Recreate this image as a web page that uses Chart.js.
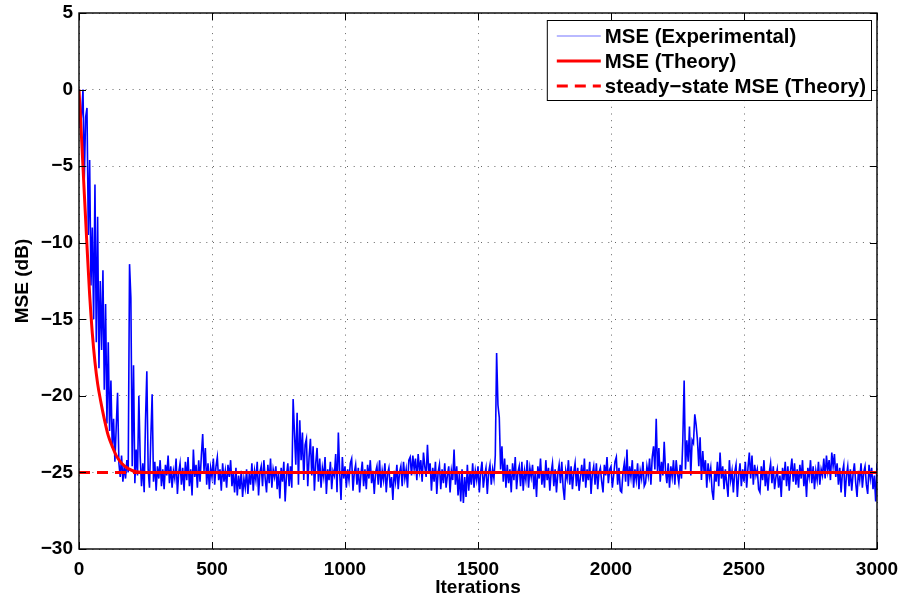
<!DOCTYPE html>
<html>
<head>
<meta charset="utf-8">
<script src="https://cdn.jsdelivr.net/npm/chart.js@4.4.1/dist/chart.umd.min.js"></script>
<style>
  html, body { margin: 0; padding: 0; background: #fff; }
  #wrap { width: 904px; height: 603px; }
</style>
</head>
<body>
<div id="wrap"><canvas id="graficoMSE"></canvas></div>
<script>
// MSE experimental (dB), one value every 5 iterations
const expStep = 5;
const expSeg0 = [ // 0 - 495
  0.0, -2.5, -1.6, 0.0, -5.8, -1.8, -1.2, -9.5, -4.6, -12.8,
  -9.0, -15.0, -6.2, -16.5, -8.3, -18.2, -12.5, -17.0, -11.8, -19.6,
  -14.0, -21.8, -16.5, -22.3, -19.0, -23.4, -21.5, -24.3, -22.0, -19.8,
  -24.4, -25.3, -23.9, -25.6, -24.6, -25.4, -24.2, -25.0, -11.4, -13.6,
  -24.6, -18.0, -25.7, -23.5, -25.2, -20.0, -24.0, -25.9, -24.4, -26.3,
  -21.6, -18.4, -24.8, -26.0, -22.7, -19.9, -25.6, -24.3, -26.2, -24.6,
  -25.4, -24.2, -25.9, -24.8, -26.1, -24.5, -25.2, -23.9, -25.7, -24.6,
  -26.0, -24.9, -25.4, -24.1, -26.4, -25.0, -24.4, -25.8, -24.7, -26.2,
  -24.3, -25.5, -24.0, -25.9, -24.8, -26.5, -23.5, -25.3, -24.5, -26.0,
  -24.2, -25.6, -23.9, -22.5, -24.9, -23.4, -25.8, -24.4, -26.1, -24.7
];
const expSeg1 = [ // 500 - 995
  -25.3, -24.1, -25.8, -24.6, -24.0, -25.5, -24.8, -26.2, -24.4, -25.6,
  -24.9, -26.0, -24.5, -25.3, -24.2, -25.9, -25.0, -26.3, -24.7, -26.5,
  -25.2, -26.1, -24.9, -26.6, -25.4, -26.0, -24.8, -26.4, -25.1, -25.8,
  -24.4, -26.2, -24.9, -25.5, -24.3, -26.5, -25.0, -24.6, -25.9, -24.2,
  -25.4, -26.3, -24.5, -25.7, -24.1, -26.0, -24.8, -25.3, -24.6, -26.1,
  -25.0, -26.7, -24.7, -25.6, -24.3, -26.9, -25.2, -24.4, -25.9, -24.6,
  -26.0, -20.2, -22.4, -24.5, -21.1, -25.8, -21.6, -24.2, -22.4, -25.5,
  -23.2, -22.8, -25.9, -24.0, -22.8, -25.2, -23.3, -26.2, -24.4, -23.4,
  -25.6, -24.1, -26.0, -24.7, -25.3, -24.0, -26.4, -24.8, -25.5, -24.3,
  -26.1, -24.9, -25.2, -23.8, -26.3, -22.4, -25.0, -26.8, -24.0, -25.4
];
const expSeg2 = [ // 1000 - 1495
  -24.6, -26.0, -24.8, -25.5, -24.4, -24.1, -26.2, -25.0, -24.5, -25.8,
  -24.7, -26.3, -25.1, -24.3, -25.9, -24.8, -26.1, -24.5, -25.4, -24.2,
  -25.7, -24.9, -26.4, -25.0, -24.6, -25.8, -24.2, -26.0, -24.9, -25.5,
  -24.4, -26.3, -25.1, -24.7, -26.0, -25.3, -26.8, -24.9, -25.6, -24.5,
  -26.1, -25.0, -24.6, -25.9, -24.3, -25.4, -24.8, -26.0, -24.2, -24.0,
  -25.2, -23.9, -24.8, -24.1, -25.5, -23.8, -24.9, -24.2, -25.6, -23.7,
  -24.6, -25.3, -23.2, -25.0, -24.4, -26.2, -24.7, -25.6, -24.3, -26.4,
  -25.0, -24.5, -26.1, -24.8, -25.7, -24.4, -26.0, -25.2, -24.6, -26.3,
  -24.9, -25.5, -23.5, -25.8, -24.6, -26.5, -25.1, -26.9, -24.8, -27.0,
  -25.3, -26.6, -24.5, -26.2, -25.0, -25.8, -24.4, -26.0, -24.9, -25.5
];
const expSeg3 = [ // 1500 - 1995
  -24.6, -26.3, -25.0, -24.3, -26.0, -25.2, -24.7, -26.4, -25.0, -24.5,
  -25.8, -24.8, -25.4, -23.9, -17.2, -20.6, -21.4, -24.8, -23.3, -25.6,
  -24.1, -26.0, -24.5, -25.7, -24.8, -26.3, -24.4, -25.5, -24.0, -26.1,
  -25.0, -24.6, -25.9, -24.3, -26.2, -24.9, -25.5, -24.2, -26.0, -24.7,
  -25.3, -24.5, -26.1, -25.0, -26.6, -24.6, -25.4, -24.1, -25.8, -24.9,
  -26.0, -24.2, -25.5, -24.7, -26.2, -25.0, -24.4, -25.9, -24.8, -26.3,
  -25.1, -24.5, -25.7, -24.3, -26.0, -26.8, -24.9, -25.4, -24.2, -25.8,
  -24.6, -26.1, -25.0, -24.4, -25.9, -24.7, -26.2, -25.3, -24.5, -25.6,
  -24.1, -26.0, -24.8, -25.5, -24.3, -26.4, -25.1, -24.6, -25.8, -24.4,
  -26.1, -25.0, -24.7, -25.6, -26.3, -24.5, -25.2, -24.0, -25.7, -24.8
];
const expSeg4 = [ // 2000 - 2495
  -24.6, -26.0, -25.2, -24.3, -24.0, -25.8, -24.7, -26.2, -26.3, -25.0,
  -24.4, -25.6, -23.5, -25.9, -24.6, -25.3, -24.2, -26.0, -24.8, -25.5,
  -24.4, -26.1, -24.9, -25.4, -24.3, -25.9, -25.7, -24.6, -25.2, -24.1,
  -25.8, -24.0, -23.3, -24.8, -21.5, -25.0, -23.4, -25.6, -24.3, -25.2,
  -23.0, -24.9, -25.7, -24.4, -26.0, -24.6, -25.3, -24.2, -25.8, -24.2,
  -25.1, -25.7, -24.5, -25.4, -22.9, -19.0, -24.8, -22.9, -24.3, -22.0,
  -25.2, -22.9, -23.1, -21.2, -21.9, -22.9, -24.6, -22.7, -25.5, -23.6,
  -25.0, -24.2, -26.0, -24.4, -25.3, -24.7, -26.2, -26.8, -24.9, -25.6,
  -24.3, -25.9, -23.7, -25.4, -24.6, -26.1, -24.8, -25.7, -26.6, -24.2,
  -25.5, -24.9, -26.3, -25.0, -24.5, -26.6, -25.2, -24.4, -25.9, -24.8
];
const expSeg5 = [ // 2500 - 3000
  -25.6, -24.3, -26.0, -24.7, -23.7, -25.4, -23.9, -25.8, -24.5, -25.2,
  -24.8, -26.1, -26.3, -24.6, -25.5, -24.2, -25.9, -24.9, -26.2, -25.0,
  -24.4, -25.7, -24.6, -26.1, -25.3, -24.8, -26.0, -25.2, -26.6, -24.7,
  -25.5, -24.3, -25.9, -24.6, -26.2, -24.9, -24.1, -25.6, -24.4, -25.8,
  -24.8, -26.0, -24.5, -25.4, -24.2, -25.9, -25.0, -26.6, -24.7, -25.3,
  -24.2, -25.7, -24.6, -26.1, -24.9, -25.5, -24.3, -25.8, -24.8, -25.2,
  -24.1, -25.4, -23.9, -24.9, -24.2, -25.5, -23.7, -24.6, -23.8, -25.3,
  -24.4, -25.8, -24.7, -26.3, -25.0, -24.5, -26.6, -25.2, -24.6, -25.9,
  -24.8, -26.2, -25.1, -24.4, -25.7, -26.6, -24.9, -25.5, -24.4, -26.0,
  -25.0, -24.6, -25.8, -26.4, -24.5, -25.4, -24.7, -26.1, -25.2, -26.9,
  -24.4
];
const mseExp = [...expSeg0, ...expSeg1, ...expSeg2, ...expSeg3, ...expSeg4, ...expSeg5];

// MSE theory curve (dB)
const theoryIter = [0, 10, 20, 30, 40, 50, 60, 70, 80, 95, 110, 125, 140, 160, 185, 215, 260, 3000];
const theoryMse = [0, -3.3, -6.8, -10.2, -13.4, -15.9, -17.8, -19.2, -20.2, -21.5, -22.6, -23.3, -23.9, -24.4, -24.75, -24.95, -25, -25];

// steady-state MSE (dB)
const steadyIter = [0, 3000];
const steadyMse = [-25, -25];

const xTicks = [0, 500, 1000, 1500, 2000, 2500, 3000];
const yTicks = [5, 0, -5, -10, -15, -20, -25, -30];
const seriesNames = ['MSE (Experimental)', 'MSE (Theory)', 'steady\u2212state MSE (Theory)'];

const FUENTE = "'Liberation Sans', Arial, Helvetica, sans-serif";
Chart.defaults.font.family = FUENTE;
Chart.defaults.font.weight = 'bold';
Chart.defaults.color = '#000';

const toXY = (xs, ys) => ys.map((y, i) => ({ x: xs[i], y }));
const menos = v => String(v).replace('-', '\u2212');

// caja, ticks hacia dentro y leyenda estilo MATLAB
const marcoMatlab = {
  id: 'marcoMatlab',
  afterDatasetsDraw(chart) {
    const { ctx, chartArea: a, scales } = chart;
    ctx.save();
    ctx.strokeStyle = '#000';
    ctx.lineWidth = 1;
    ctx.setLineDash([]);
    ctx.beginPath();
    xTicks.forEach(v => {
      const px = Math.round(scales.x.getPixelForValue(v)) + 0.5;
      ctx.moveTo(px, a.bottom); ctx.lineTo(px, a.bottom - 7);
      ctx.moveTo(px, a.top); ctx.lineTo(px, a.top + 7);
    });
    yTicks.forEach(v => {
      const py = Math.round(scales.y.getPixelForValue(v)) + 0.5;
      ctx.moveTo(a.left, py); ctx.lineTo(a.left + 7, py);
      ctx.moveTo(a.right, py); ctx.lineTo(a.right - 7, py);
    });
    ctx.stroke();
    ctx.lineWidth = 1.4;
    ctx.strokeRect(a.left, a.top, a.right - a.left, a.bottom - a.top);

    // leyenda
    ctx.font = 'bold 20.4px ' + FUENTE;
    const maxW = Math.max(...seriesNames.map(t => ctx.measureText(t).width));
    const w = 58 + maxW + 5, h = 80;
    const lx = a.right - 6 - w, ly = a.top + 7;
    ctx.fillStyle = '#fff';
    ctx.fillRect(lx, ly, w, h);
    ctx.lineWidth = 1;
    ctx.strokeStyle = '#000';
    ctx.strokeRect(lx + 0.5, ly + 0.5, w, h);
    chart.data.datasets.forEach((ds, i) => {
      const ry = ly + 16 + i * 25;
      ctx.strokeStyle = i === 0 ? 'rgba(0,0,255,0.55)' : ds.borderColor;
      ctx.lineWidth = i === 0 ? 1.2 : 3;
      ctx.setLineDash(ds.borderDash || []);
      ctx.beginPath();
      ctx.moveTo(lx + 10, ry); ctx.lineTo(lx + 54, ry);
      ctx.stroke();
      ctx.setLineDash([]);
      ctx.fillStyle = '#000';
      ctx.textBaseline = 'middle';
      ctx.textAlign = 'left';
      ctx.fillText(seriesNames[i], lx + 58, ry + 1);
    });
    ctx.restore();
  }
};

new Chart(document.getElementById('graficoMSE'), {
  type: 'line',
  data: {
    datasets: [
      {
        label: seriesNames[0],
        data: toXY(mseExp.map((_, i) => i * expStep), mseExp),
        borderColor: '#0000ff',
        borderWidth: 1.6,
        pointRadius: 0,
        tension: 0,
        order: 3
      },
      {
        label: seriesNames[1],
        data: toXY(theoryIter, theoryMse),
        borderColor: '#ff0000',
        borderWidth: 3,
        pointRadius: 0,
        cubicInterpolationMode: 'monotone',
        order: 2
      },
      {
        label: seriesNames[2],
        data: toXY(steadyIter, steadyMse),
        borderColor: '#ff0000',
        borderWidth: 3,
        borderDash: [11, 7],
        pointRadius: 0,
        order: 1
      }
    ]
  },
  options: {
    responsive: true,
    maintainAspectRatio: false,
    animation: false,
    layout: { padding: { left: 0, top: 13, right: 27, bottom: 0 } },
    plugins: { legend: { display: false }, tooltip: { enabled: false } },
    scales: {
      x: {
        type: 'linear',
        min: 0, max: 3000,
        afterBuildTicks: s => { s.ticks = xTicks.map(v => ({ value: v })); },
        afterFit: s => { s.height = 54; s.paddingLeft = 0; s.paddingRight = 0; },
        grid: { drawTicks: false, color: 'rgba(0,0,0,0.6)', lineWidth: 1 },
        border: { display: false, dash: [1, 5.7] },
        ticks: { padding: 9, maxRotation: 0, font: { size: 19, weight: 'bold' }, callback: v => menos(v) },
        title: { display: true, text: 'Iterations', font: { size: 19, weight: 'bold' }, padding: { top: 0, bottom: 4 } }
      },
      y: {
        type: 'linear',
        min: -30, max: 5,
        afterBuildTicks: s => { s.ticks = yTicks.map(v => ({ value: v })); },
        afterFit: s => { s.width = 79; s.paddingTop = 0; s.paddingBottom = 0; },
        grid: { drawTicks: false, color: 'rgba(0,0,0,0.6)', lineWidth: 1 },
        border: { display: false, dash: [1, 5.7] },
        ticks: { padding: 6, font: { size: 19, weight: 'bold' }, callback: v => menos(v) },
        title: { display: true, text: 'MSE (dB)', font: { size: 19, weight: 'bold' }, padding: { top: 11, bottom: 0 } }
      }
    }
  },
  plugins: [marcoMatlab]
});
</script>
</body>
</html>
